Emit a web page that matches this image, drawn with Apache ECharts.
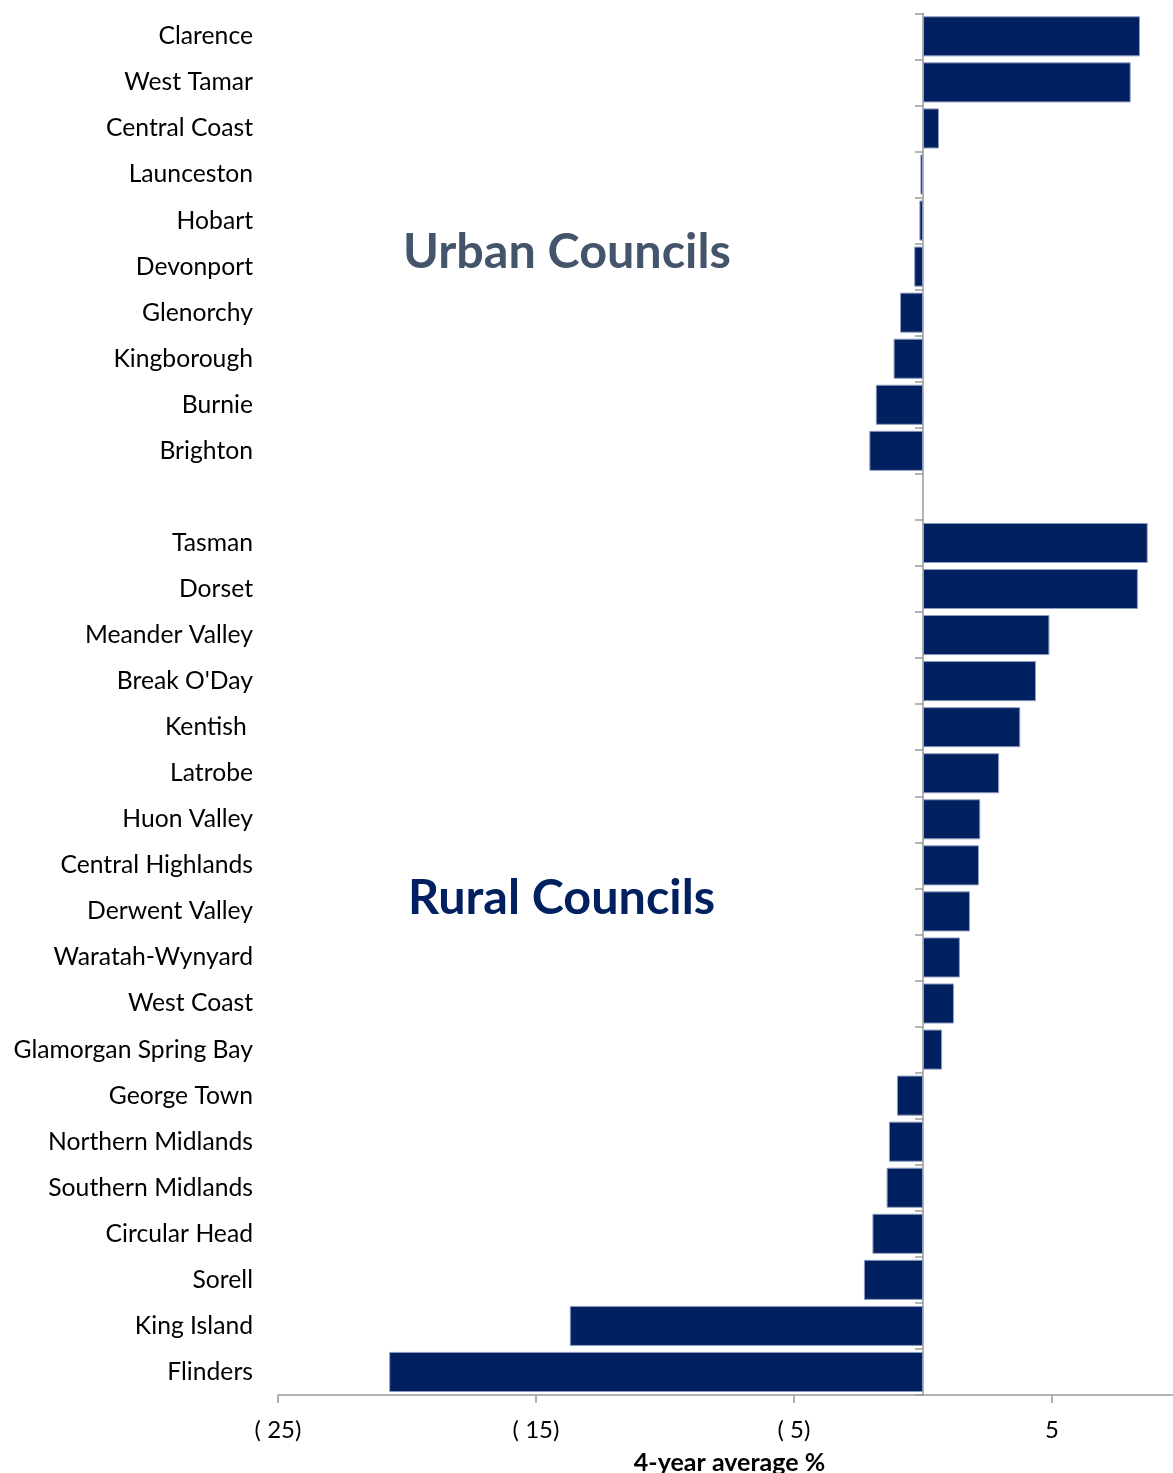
<!DOCTYPE html>
<html>
<head>
<meta charset="utf-8">
<script src="https://cdn.jsdelivr.net/npm/echarts@6/dist/echarts.min.js"></script>
<style>
  html, body { margin: 0; padding: 0; background: #fff; overflow: hidden; }
  #chart { width: 1400px; height: 1473px; }
</style>
</head>
<body>
<div id="chart"></div>
<script>
// Councils, top to bottom; the empty entry separates urban from rural
const councils = [
  'Clarence', 'West Tamar', 'Central Coast', 'Launceston', 'Hobart',
  'Devonport', 'Glenorchy', 'Kingborough', 'Burnie', 'Brighton',
  '',
  'Tasman', 'Dorset', 'Meander Valley', "Break O'Day", 'Kentish ',
  'Latrobe', 'Huon Valley', 'Central Highlands', 'Derwent Valley',
  'Waratah-Wynyard', 'West Coast', 'Glamorgan Spring Bay', 'George Town',
  'Northern Midlands', 'Southern Midlands', 'Circular Head', 'Sorell',
  'King Island', 'Flinders'
];

// 4-year average (%) per council, same order as above
const averages = [
  8.41, 8.05, 0.62, -0.10, -0.14,
  -0.34, -0.89, -1.14, -1.83, -2.08,
  null,
  8.71, 8.33, 4.90, 4.38, 3.77,
  2.95, 2.22, 2.17, 1.82,
  1.43, 1.20, 0.74, -1.01,
  -1.32, -1.41, -1.96, -2.29,
  -13.69, -20.69
];

// Value axis ticks shown as labels
const tickValues = [-25, -15, -5, 5];

const groupTitles = ['Urban Councils', 'Rural Councils'];

const FONT = 'Lato';

const chart = echarts.init(document.getElementById('chart'), null, { renderer: 'canvas' });

function fmtTick(v) {
  if (tickValues.indexOf(v) < 0) return '';
  if (v < 0) return '( ' + Math.abs(v) + ')';
  return String(v);
}

chart.setOption({
  animation: false,
  backgroundColor: '#ffffff',
  grid: {
    left: 278, top: 13.3, width: 903, height: 1381.7,
    containLabel: false,
    outerBoundsMode: 'none'
  },
  xAxis: {
    type: 'value',
    min: -25,
    max: 10,
    interval: 10,
    axisLine: { show: true, onZero: false, lineStyle: { color: '#9a9a9a', width: 1.5 } },
    axisTick: { show: true, length: 8, lineStyle: { color: '#9a9a9a', width: 1.5 } },
    axisLabel: {
      formatter: fmtTick,
      color: '#000',
      fontFamily: FONT,
      fontSize: 24,
      margin: 23
    },
    splitLine: { show: false },
    name: '4-year average %',
    nameLocation: 'middle',
    nameGap: 55,
    nameTextStyle: { color: '#000', fontFamily: FONT, fontWeight: 'bold', fontSize: 25 }
  },
  yAxis: [
    {
      type: 'category',
      data: councils,
      inverse: true,
      position: 'left',
      axisLine: { show: false, onZero: false },
      axisTick: { show: false },
      axisLabel: {
        color: '#000',
        fontFamily: FONT,
        fontSize: 24.7,
        margin: 25
      }
    },
    {
      type: 'category',
      data: councils,
      inverse: true,
      position: 'left',
      axisLine: { show: true, onZero: true, onZeroAxisIndex: 0, lineStyle: { color: '#9a9a9a', width: 1.5 } },
      axisTick: { show: true, length: 8, lineStyle: { color: '#9a9a9a', width: 1.5 } },
      axisLabel: { show: false }
    }
  ],
  series: [
    {
      type: 'bar',
      yAxisIndex: 0,
      data: averages,
      barCategoryGap: '13%',
      itemStyle: { color: '#002060', borderColor: '#8e9cbf', borderWidth: 1 },
      z: 1
    }
  ],
  graphic: [
    {
      type: 'text',
      x: 403,
      y: 252,
      style: {
        text: groupTitles[0],
        fill: '#44546A',
        font: 'bold 48.5px ' + FONT,
        verticalAlign: 'middle'
      }
    },
    {
      type: 'text',
      x: 408,
      y: 898,
      style: {
        text: groupTitles[1],
        fill: '#002060',
        font: 'bold 48.5px ' + FONT,
        verticalAlign: 'middle'
      }
    }
  ]
});
</script>
</body>
</html>
